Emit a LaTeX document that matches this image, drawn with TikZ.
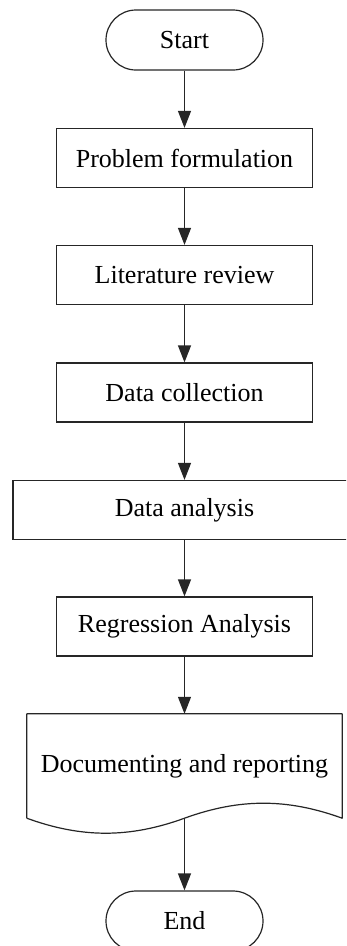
\documentclass[tikz,border=0pt]{standalone}
\usepackage{fontspec}
\setmainfont{Liberation Serif}
\usepackage{tikz}
\usetikzlibrary{positioning, arrows.meta, shapes.geometric, calc}

\begin{document}
\begin{tikzpicture}
            [x=1pt, y=1pt,
              term/.style={rectangle, rounded corners=30pt, draw=black!85,
                line width=1.2pt, minimum width=157pt, minimum height=60pt,
                inner sep=0pt, font=\fontsize{26}{30}\selectfont},
              proc/.style={rectangle, draw=black!85, line width=1.2pt,
                minimum width=256pt, minimum height=59pt, inner sep=0pt,
                font=\fontsize{26}{30}\selectfont},
              docu/.style={rectangle, minimum width=315pt, minimum height=104pt,
                inner sep=0pt, font=\fontsize{26}{30}\selectfont},
              flow/.style={draw=black!85, line width=1.2pt,
                arrows={-Triangle[width=13pt, length=17pt]}}]
            \clip (0, 0) rectangle (346, -946);
            \node[term] (start) at (184.5, -40) {Start};
            \node[proc] (prob) at (184.5, -158) {Problem formulation};
            \node[proc] (lit) at (184.5, -275) {Literature review};
            \node[proc] (coll) at (184.5, -392.5) {Data collection};
            \node[proc, minimum width=343pt] (anal) at (184.5, -510) {Data analysis};
            \node[proc] (regr) at (184.5, -626.5) {Regression Analysis};
            \node[docu] (doc) at (184.5, -766) {\raisebox{4pt}{Documenting and reporting}};
            \node[term] (end) at (184.5, -921) {End};
            % document outline with wavy bottom
            \draw[draw=black!85, line width=1.2pt, line join=round]
              (doc.south west) -- (doc.north west) -- (doc.north east)
              -- (doc.south east)
              .. controls +(-55, 20) and +(55, 20) .. (doc.south)
              .. controls +(-55, -20) and +(55, -20) .. (doc.south west);
            \draw[flow] (start) to (prob);
            \draw[flow] (prob) to (lit);
            \draw[flow] (lit) to (coll);
            \draw[flow] (coll) to (anal);
            \draw[flow] (anal) to (regr);
            \draw[flow] (regr) to (doc.north);
            \draw[flow] (doc.south) to (end);
        \end{tikzpicture}
\end{document}
